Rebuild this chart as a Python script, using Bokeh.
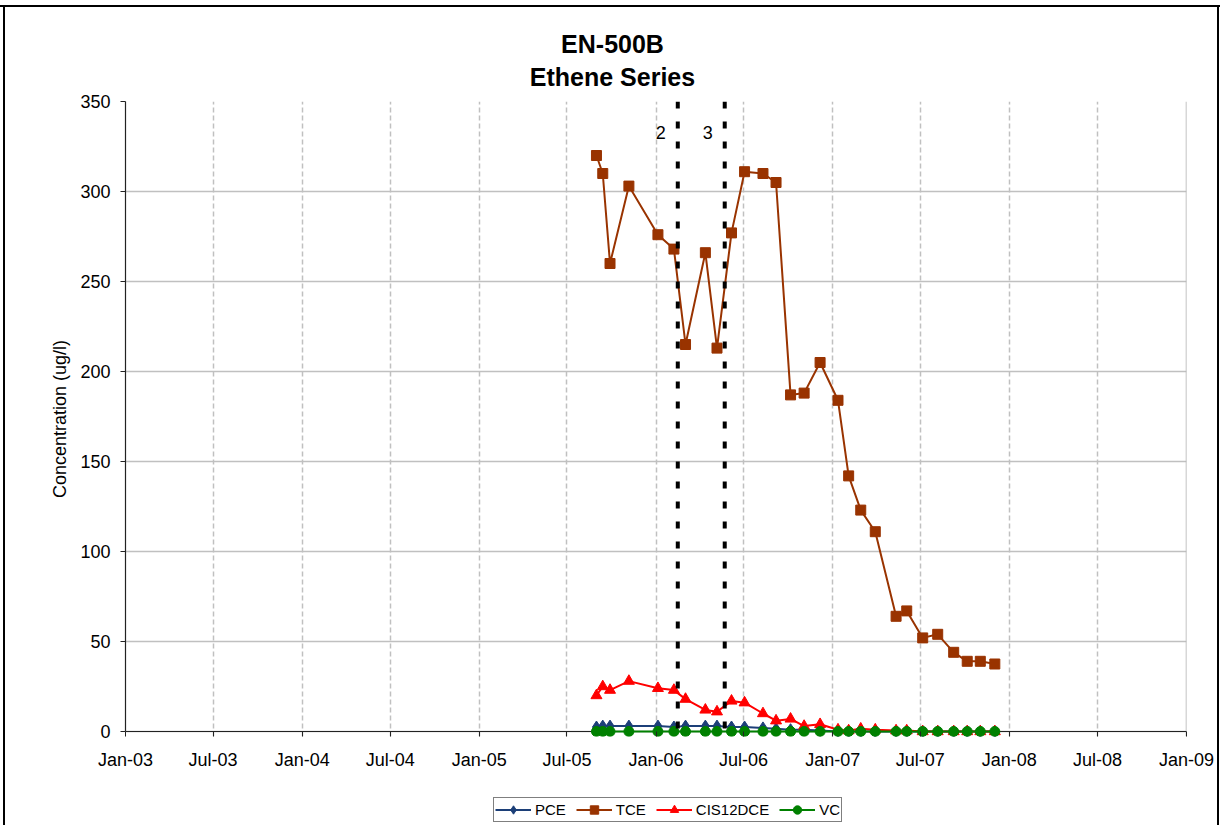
import pandas as pd
from bokeh.plotting import figure
from bokeh.layouts import column
from bokeh.models import (Range1d, FixedTicker, DatetimeTickFormatter, Span, Label,
                          Legend, LegendItem)
from bokeh.embed import file_html
from bokeh.resources import INLINE

# ---------------- data ----------------
dates = ["2005-08-31", "2005-09-13", "2005-09-28", "2005-11-06", "2006-01-05",
         "2006-02-07", "2006-03-03", "2006-04-13", "2006-05-07", "2006-06-06",
         "2006-07-03", "2006-08-10", "2006-09-06", "2006-10-06", "2006-11-03",
         "2006-12-06", "2007-01-12", "2007-02-03", "2007-02-28", "2007-03-30",
         "2007-05-12", "2007-06-03", "2007-07-06", "2007-08-06", "2007-09-08",
         "2007-10-06", "2007-11-02", "2007-12-02"]
pce = [2.5, 3, 3, 3, 3, 2.5, 3, 3, 3, 2.5, 2.5, 2, 1.5, 1, 1, 0.5,
       0, 0, 0, 0, 0, 0, 0, 0, 0, 0, 0, 0]
tce = [320, 310, 260, 303, 276, 268, 215, 266, 213, 277, 311, 310, 305, 187,
       188, 205, 184, 142, 123, 111, 64, 67, 52, 54, 44, 39, 39, 37.5]
cis12dce = [20, 25, 23, 28, 24, 23, 18, 12, 11, 17, 16, 10, 6, 7, 3, 4,
            1, 0.5, 1.5, 1, 0.5, 0.5, 0, 0, 0, 0, 0, 0]
vc = [0, 0, 0, 0, 0, 0, 0, 0, 0, 0, 0, 0, 0, 0, 0, 0,
      0, 0, 0, 0, 0, 0, 0, 0, 0, 0, 0, 0]

tick_dates = ["2003-01-01", "2003-07-01", "2004-01-01", "2004-07-01",
              "2005-01-01", "2005-07-01", "2006-01-01", "2006-07-01",
              "2007-01-01", "2007-07-01", "2008-01-01", "2008-07-01",
              "2009-01-01"]
tick_labels = ["Jan-03", "Jul-03", "Jan-04", "Jul-04", "Jan-05", "Jul-05",
               "Jan-06", "Jul-06", "Jan-07", "Jul-07", "Jan-08", "Jul-08",
               "Jan-09"]
y_ticks = [0, 50, 100, 150, 200, 250, 300, 350]

event_dates = ["2006-02-15", "2006-05-23"]
event_labels = ["2", "3"]

title_lines = ["EN-500B", "Ethene Series"]
y_label = "Concentration (ug/l)"

series_names = ["PCE", "TCE", "CIS12DCE", "VC"]
series_values = [pce, tce, cis12dce, vc]

# ---------------- styling ----------------
colors = ["#1C3F78", "#993300", "#FF0000", "#008000"]
markers = ["diamond", "square", "triangle", "circle"]
sizes = [12, 10, 11, 10]
FONT = "Liberation Sans"
SIDES = "inset 3px 0 0 0 white, inset 5px 0 0 0 black, inset -1px 0 0 0 white, inset -3px 0 0 0 black"
TOP = "inset 0 5px 0 0 white, inset 0 7px 0 0 black"


def ms(d):
    return int(pd.Timestamp(d).value // 10**6)


x = pd.to_datetime(dates)

W = 1220
H0, H1, H2 = 90, 700, 35            # title strip, chart, legend strip
FL, FR, FT, FB = 125, 1186, 101, 736  # frame edges on the page
STRIP_SHIFT = 8                      # title strip frame sits 8px lower than its canvas

# ---------------- title strip ----------------
p0 = figure(width=W, height=H0, x_range=Range1d(FL, FR), y_range=Range1d(0, H0),
            x_axis_location=None, y_axis_location=None, title=None,
            toolbar_location=None, output_backend="svg", min_border=0)
p0.grid.visible = False
p0.outline_line_color = None
p0.background_fill_color = None
p0.border_fill_color = None
p0.styles = {"box-shadow": TOP + ", " + SIDES}
for txt, base in zip(title_lines, [51.0, 84.0]):
    p0.add_layout(Label(x=612, y=H0 - base + STRIP_SHIFT, text=txt, text_align="center",
                        text_baseline="alphabetic", text_font=FONT,
                        text_font_size="25px", text_font_style="bold",
                        text_color="black"))

# ---------------- main chart ----------------
p = figure(width=W, height=H1, x_axis_type="datetime", title=None,
           output_backend="svg", toolbar_location=None,
           x_range=Range1d(ms(tick_dates[0]), ms(tick_dates[-1])),
           y_range=Range1d(-5 / 1.8, 350),
           min_border_left=FL, min_border_right=W - FR,
           min_border_top=FT - H0, min_border_bottom=H0 + H1 - FB)
p.outline_line_color = None
p.background_fill_color = "white"
p.border_fill_color = None
p.styles = {"box-shadow": SIDES}

p.xaxis.ticker = FixedTicker(ticks=[ms(d) for d in tick_dates])
p.xaxis.formatter = DatetimeTickFormatter(days="%b-%y", months="%b-%y", years="%b-%y",
                                          hours="%b-%y", minutes="%b-%y")
p.xaxis.major_label_overrides = {ms(d): lbl for d, lbl in zip(tick_dates, tick_labels)}
p.xaxis.axis_line_color = None
p.xaxis.major_tick_in = 5
p.xaxis.major_tick_out = 0
p.xaxis.major_label_standoff = 13

p.yaxis.ticker = FixedTicker(ticks=y_ticks)
p.yaxis.bounds = (0, 350)
p.yaxis.axis_line_color = "#222222"
p.yaxis.axis_line_width = 1.2
p.yaxis.major_tick_in = 0
p.yaxis.major_tick_out = 5
p.yaxis.major_label_standoff = 10
for ax in (p.xaxis, p.yaxis):
    ax.major_tick_line_color = "#222222"
    ax.minor_tick_out = 0
    ax.minor_tick_in = 0
    ax.major_label_text_font = FONT
    ax.major_label_text_font_size = "18px"
    ax.major_label_text_color = "black"
p.yaxis.axis_label = y_label
p.yaxis.axis_label_text_font = FONT
p.yaxis.axis_label_text_font_size = "18px"
p.yaxis.axis_label_text_font_style = "normal"
p.yaxis.axis_label_text_color = "black"
p.yaxis.axis_label_standoff = 7

p.ygrid.grid_line_color = "#c0c0c0"
p.ygrid.grid_line_width = 1.5
p.xgrid.grid_line_color = "#c0c0c0"
p.xgrid.grid_line_width = 1.5
p.xgrid.grid_line_dash = "5 3"
p.add_layout(Span(location=ms(tick_dates[-1]), dimension="height", level="underlay",
                  line_color="#b0b0b0", line_width=1.5))
p.add_layout(Span(location=0, dimension="width", level="underlay",
                  line_color="#222222", line_width=1.2))

for d, lbl in zip(event_dates, event_labels):
    p.add_layout(Span(location=ms(d), dimension="height", line_color="black",
                      line_width=4, line_dash="7 13"))
    p.add_layout(Label(x=ms(d), y=333, x_offset=-12, text=lbl, text_align="right",
                       text_baseline="alphabetic", text_font=FONT,
                       text_font_size="18px", text_color="black"))

for vals, c, m, s in zip(series_values, colors, markers, sizes):
    p.line(x, vals, line_color=c, line_width=2)
    p.scatter(x, vals, marker=m, size=s, fill_color=c, line_color=c)

# ---------------- legend strip ----------------
p2 = figure(width=W, height=H2, x_range=Range1d(0, 1), y_range=Range1d(0, 1),
            x_axis_location=None, y_axis_location=None, title=None,
            toolbar_location=None, output_backend="svg", min_border=0)
p2.grid.visible = False
p2.outline_line_color = None
p2.background_fill_color = None
p2.border_fill_color = None
p2.styles = {"box-shadow": SIDES}
items = []
for name, vals, c, m, s in zip(series_names, series_values, colors, markers, sizes):
    # same series, outside this strip's ranges: only their legend glyphs show
    r1 = p2.line(x, vals, line_color=c, line_width=2)
    r2 = p2.scatter(x, vals, marker=m, size=s, fill_color=c, line_color=c)
    items.append(LegendItem(label=name, renderers=[r1, r2]))

lg = Legend(items=items, orientation="horizontal", location=(493 - FL, 3))
lg.label_text_font = FONT
lg.label_text_font_size = "15px"
lg.label_text_color = "black"
lg.glyph_width = 36
lg.glyph_height = 21
lg.label_height = 21
lg.label_standoff = 4
lg.spacing = 10
lg.padding = 1
lg.margin = 0
lg.border_line_color = "black"
lg.border_line_width = 1
lg.background_fill_color = "white"
lg.background_fill_alpha = 1
p2.add_layout(lg, "center")

layout = column(p0, p, p2, spacing=0)
open("out.html", "w").write(file_html(layout, INLINE))
